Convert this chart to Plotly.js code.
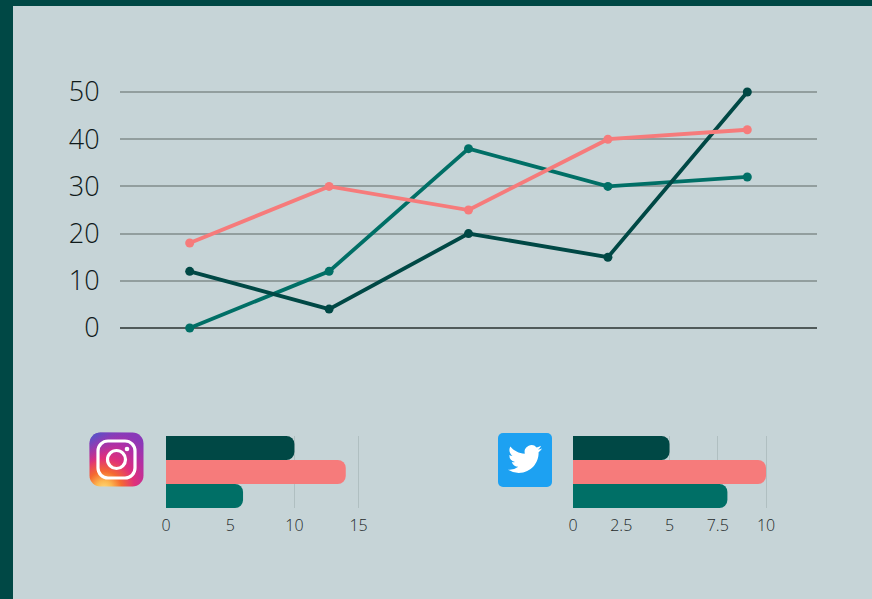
<!DOCTYPE html>
<html><head><meta charset="utf-8">
<script src="https://cdn.plot.ly/plotly-3.0.1.min.js"></script>
<style>html,body{margin:0;padding:0;background:#c6d4d7;overflow:hidden}
.bars path{shape-rendering:geometricPrecision !important}</style>
</head><body><div id="c" style="width:872px;height:599px"></div>
<script>
const periods = ['A','B','C','D','E'];
const darkValues = [12,4,20,15,50];
const tealValues = [0,12,38,30,32];
const pinkValues = [18,30,25,40,42];
const instagramValues = [10,14,6];
const twitterValues = [5,10,8];
const seriesColors = ['#004845','#f67b7b','#006f66'];
const W=872,H=599;
const dx=(a,b)=>[a/W,b/W], dy=(t,b)=>[1-b/H,1-t/H];
const line=(y,c)=>({type:'scatter',mode:'lines+markers',x:periods,y:y,cliponaxis:false,
  line:{color:c,width:3.8},marker:{color:c,size:9},hoverinfo:'skip'});
const bar=(cat,v,c,xa,ya)=>({type:'bar',orientation:'h',x:[v],y:[cat],xaxis:xa,yaxis:ya,
  marker:{color:c,line:{width:0}},hoverinfo:'skip'});
const data=[line(tealValues,seriesColors[2]),line(darkValues,seriesColors[0]),line(pinkValues,seriesColors[1])];
[0,1,2].forEach(i=>data.push(bar('Instagram',instagramValues[i],seriesColors[i],'x2','y2')));
[0,1,2].forEach(i=>data.push(bar('Twitter',twitterValues[i],seriesColors[i],'x3','y3')));
const tickFont=(s,c)=>({family:'"Open Sans",sans-serif',size:s,color:c,weight:300});
const barX=(dom,range,vals,text)=>({domain:dom,range:range,tickmode:'array',tickvals:vals,ticktext:text,
  showgrid:true,gridcolor:'#b0bfc1',gridwidth:1,zeroline:false,showline:false,ticks:'outside',ticklen:3,tickcolor:'rgba(0,0,0,0)',tickfont:tickFont(16,'#1f2a2a')});
const barY=(dom)=>({domain:dom,autorange:'reversed',showticklabels:false,showgrid:false,zeroline:false,ticks:''});
const igSvg=`<svg xmlns="http://www.w3.org/2000/svg" width="56" height="56" viewBox="0 0 56 56"><defs>
<radialGradient id="a" cx="0.27" cy="1.05" r="1.1"><stop offset="0" stop-color="#ffdc7d"/><stop offset="0.14" stop-color="#fcb74f"/><stop offset="0.3" stop-color="#f56a30"/><stop offset="0.52" stop-color="#e0307a"/><stop offset="0.78" stop-color="#b22fa5"/><stop offset="1" stop-color="#8a38b8"/></radialGradient>
<linearGradient id="b" x1="0" y1="0" x2="0.3" y2="0.4"><stop offset="0" stop-color="#3f5fd0"/><stop offset="1" stop-color="#8a3ab9" stop-opacity="0"/></linearGradient></defs>
<rect x="1" y="1" width="54" height="54" rx="11" fill="url(#a)"/><rect x="1" y="1" width="54" height="54" rx="11" fill="url(#b)"/>
<rect x="9.5" y="9.5" width="37" height="37" rx="10" fill="none" stroke="#fff" stroke-width="3.2"/>
<circle cx="28" cy="28" r="9" fill="none" stroke="#fff" stroke-width="3.2"/><circle cx="38.5" cy="17.5" r="2.3" fill="#fff"/></svg>`;
const twSvg=`<svg xmlns="http://www.w3.org/2000/svg" width="54" height="54" viewBox="0 0 54 54"><rect width="54" height="54" rx="5" fill="#1da1f2"/>
<g transform="translate(10,9) scale(1.42)"><path fill="#fff" d="M23.953 4.57a10 10 0 01-2.825.775 4.958 4.958 0 002.163-2.723c-.951.555-2.005.959-3.127 1.184a4.92 4.92 0 00-8.384 4.482C7.69 8.095 4.067 6.13 1.64 3.162a4.822 4.822 0 00-.666 2.475c0 1.71.87 3.213 2.188 4.096a4.904 4.904 0 01-2.228-.616v.06a4.923 4.923 0 003.946 4.827 4.996 4.996 0 01-2.212.085 4.936 4.936 0 004.604 3.417 9.867 9.867 0 01-6.102 2.105c-.39 0-.779-.023-1.17-.067a13.995 13.995 0 007.557 2.209c9.053 0 13.998-7.496 13.998-13.985 0-.21 0-.42-.015-.63A9.935 9.935 0 0024 4.59z"/></g></svg>`;
const uri=s=>'data:image/svg+xml;charset=utf-8,'+encodeURIComponent(s);
const img=(s,x,y,w,h)=>({source:uri(s),xref:'paper',yref:'paper',x:x/W,y:1-y/H,sizex:w/W,sizey:h/H,xanchor:'left',yanchor:'top',layer:'above',sizing:'stretch'});
const layout={width:W,height:H,margin:{l:0,r:0,t:0,b:0},paper_bgcolor:'#c6d4d7',plot_bgcolor:'rgba(0,0,0,0)',showlegend:false,
 barmode:'group',bargap:0,bargroupgap:0,barcornerradius:8,
 xaxis:{domain:dx(120,817),type:'category',range:[-0.5,4.5],showticklabels:false,showgrid:false,zeroline:false,ticks:''},
 yaxis:{domain:dy(88,328),range:[0,50*240/236],tickvals:[0,10,20,30,40,50],showgrid:true,gridcolor:'#929e9e',gridwidth:2,
   zeroline:true,zerolinecolor:'#505a5a',zerolinewidth:2,ticks:'outside',ticklen:14,tickcolor:'rgba(0,0,0,0)',tickfont:tickFont(27,'#0f1a1a')},
 xaxis2:Object.assign(barX(dx(166,362.6),[0,15*196.6/192.6],[0,5,10,15],['0','5','10','15']),{anchor:'y2'}),
 yaxis2:Object.assign(barY(dy(436,508)),{anchor:'x2'}),
 xaxis3:Object.assign(barX(dx(573,770),[0,10*197/193],[0,2.5,5,7.5,10],['0','2.5','5','7.5','10']),{anchor:'y3'}),
 yaxis3:Object.assign(barY(dy(436,508)),{anchor:'x3'}),
 shapes:[
  {type:'rect',xref:'paper',yref:'paper',x0:0,x1:1,y0:1-6/H,y1:1,fillcolor:'#004845',line:{width:0},layer:'below'},
  {type:'rect',xref:'paper',yref:'paper',x0:0,x1:13/W,y0:0,y1:1,fillcolor:'#004845',line:{width:0},layer:'below'}
 ],
 images:[img(igSvg,88.5,431.5,56,56),img(twSvg,498,433,54,54)]
};
Plotly.newPlot('c',data,layout,{displayModeBar:false,staticPlot:true}).then(()=>{
  document.querySelectorAll('.bars path').forEach(p=>p.style.setProperty('shape-rendering','geometricPrecision','important'));
});
</script></body></html>
